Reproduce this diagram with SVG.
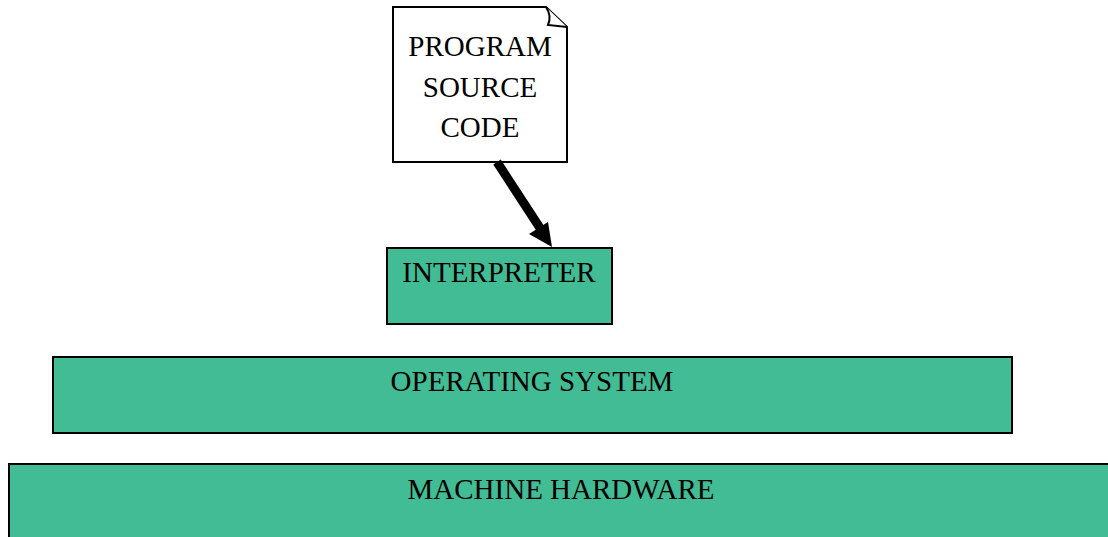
<svg xmlns="http://www.w3.org/2000/svg" width="1108" height="537" viewBox="0 0 1108 537">
<style>
.box{fill:#42BC94;stroke:#000;stroke-width:2}
.doc{fill:#fff;stroke:#000;stroke-width:2;stroke-linejoin:miter}
.t{font-family:"Liberation Serif","Times New Roman",serif;font-size:29px;fill:#000;text-anchor:middle}
</style>
<rect width="1108" height="537" fill="#fff"/>
<g id="source">
<path class="doc" d="M393,7 L546,7 L567,27 L567,162 L393,162 Z"/>
<path class="doc" d="M546,7 Q552,16 548,25 L567,27"/>
<text class="t" x="480" y="56">PROGRAM</text>
<text class="t" x="480" y="97">SOURCE</text>
<text class="t" x="480" y="137">CODE</text>
</g>
<g id="interpreter">
<rect class="box" x="387" y="248" width="225" height="76"/>
<text class="t" x="499" y="282">INTERPRETER</text>
</g>
<g id="os">
<rect class="box" x="53" y="357" width="959" height="76"/>
<text class="t" x="532" y="391">OPERATING SYSTEM</text>
</g>
<g id="hardware">
<rect class="box" x="9" y="464" width="1110" height="90"/>
<text class="t" x="561" y="499">MACHINE HARDWARE</text>
</g>
<g id="connectors">
<line x1="497" y1="162" x2="540" y2="228" stroke="#000" stroke-width="9"/>
<polygon points="552,247 529,234 548,222" fill="#000"/>
</g>
</svg>
